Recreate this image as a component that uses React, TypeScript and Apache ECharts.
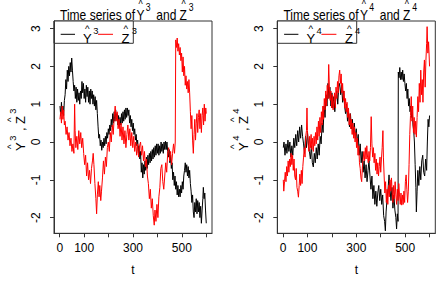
import React, { useEffect, useRef } from "react";
import * as echarts from "echarts";

// ---- data (t, value) ----
const Y3: [number, number][] = [[1,0.95],[4,0.7],[7,1.05],[10,0.75],[13,0.95],[16,0.7],[19,1.1],[22,1.25],[25,1.65],[28,1.4],[31,1.9],[34,1.6],[37,2.0],[40,1.75],[43,2.1],[46,1.85],[49,2.22],[52,1.9],[55,1.6],[58,1.35],[61,1.5],[64,1.15],[67,1.45],[70,1.05],[73,1.4],[76,1.1],[79,1.3],[82,1.0],[85,1.35],[88,1.15],[91,1.6],[94,1.3],[97,1.55],[100,1.15],[103,1.4],[106,1.05],[109,1.5],[112,1.2],[115,1.45],[118,1.05],[121,1.35],[124,1.0],[127,1.4],[130,1.15],[133,1.35],[136,1.0],[139,1.25],[142,0.95],[145,1.2],[148,0.85],[151,1.1],[154,0.75],[157,0.4],[160,0.1],[163,0.2],[166,-0.1],[169,0.05],[172,-0.22],[175,0.0],[178,-0.15],[181,0.1],[184,-0.1],[187,0.15],[190,-0.05],[193,0.25],[196,0.1],[199,0.35],[202,0.2],[205,0.45],[208,0.3],[211,0.6],[214,0.4],[217,0.75],[220,0.5],[223,0.8],[226,0.55],[229,0.85],[232,0.6],[235,0.75],[238,0.45],[241,0.7],[244,0.4],[247,0.65],[250,0.45],[253,0.75],[256,0.5],[259,0.8],[262,0.55],[265,0.85],[268,0.6],[271,0.9],[274,0.65],[277,0.9],[280,0.7],[283,0.85],[286,0.5],[289,0.7],[292,0.4],[295,0.6],[298,0.3],[301,0.5],[304,0.2],[307,0.35],[310,0.05],[313,0.2],[316,-0.1],[319,0.05],[322,-0.3],[325,-0.1],[328,-0.45],[331,-0.25],[334,-0.8],[337,-0.55],[340,-0.95],[343,-0.6],[346,-0.85],[349,-0.5],[352,-0.75],[355,-0.4],[358,-0.7],[361,-0.35],[364,-0.6],[367,-0.3],[370,-0.55],[373,-0.25],[376,-0.5],[379,-0.2],[382,-0.45],[385,-0.15],[388,-0.4],[391,-0.1],[394,-0.35],[397,-0.05],[400,-0.3],[403,-0.05],[406,-0.35],[409,-0.1],[412,-0.3],[415,0.0],[418,-0.25],[421,-0.05],[424,-0.3],[427,0.0],[430,-0.2],[433,0.02],[436,-0.2],[439,0.0],[442,-0.25],[445,-0.4],[448,-0.2],[451,-0.55],[454,-0.35],[457,-0.7],[460,-0.55],[463,-1.0],[466,-0.8],[469,-1.15],[472,-0.9],[475,-1.25],[478,-1.05],[481,-1.4],[484,-1.15],[487,-1.45],[490,-1.25],[493,-1.45],[496,-1.15],[499,-1.35],[502,-1.05],[505,-1.25],[508,-0.9],[511,-0.75],[514,-0.55],[517,-0.8],[520,-0.6],[523,-0.9],[526,-0.65],[529,-0.95],[532,-0.75],[535,-1.1],[538,-1.3],[541,-1.6],[544,-1.4],[547,-1.85],[550,-2.0],[553,-1.6],[556,-1.85],[559,-1.5],[562,-1.9],[565,-1.55],[568,-1.85],[571,-1.6],[574,-2.0],[577,-1.7],[580,-2.15],[583,-1.8],[586,-1.5],[588,-1.2],[591,-1.5],[594,-1.35],[597,-1.8],[600,-2.15]];

const Z3: [number, number][] = [[1,0.6],[4,0.8],[7,0.5],[10,0.95],[13,0.6],[16,0.85],[19,0.45],[22,0.55],[26,0.2],[30,0.4],[34,0.05],[38,0.25],[42,-0.1],[46,0.1],[50,-0.25],[54,-0.05],[58,-0.3],[61,1.0],[63,0.3],[66,-0.15],[70,0.15],[74,-0.2],[78,0.3],[82,-0.05],[86,0.25],[90,-0.15],[94,0.1],[98,-0.3],[102,-0.6],[106,-0.35],[110,-0.9],[114,-0.55],[118,-1.0],[122,-0.75],[126,-1.1],[130,-0.7],[134,-0.5],[137,-0.3],[140,-0.6],[144,-1.1],[148,-1.5],[151,-1.9],[154,-1.4],[158,-1.05],[161,-1.45],[164,-1.15],[168,-1.55],[171,-1.3],[175,-0.95],[179,-0.5],[183,-0.85],[187,-0.4],[191,-0.65],[195,-0.15],[199,0.0],[203,-0.25],[207,0.25],[211,0.0],[215,0.45],[219,0.2],[223,0.65],[227,0.95],[231,0.55],[235,0.8],[239,0.35],[243,0.6],[247,0.15],[251,0.5],[255,0.05],[259,0.4],[263,-0.05],[267,0.3],[271,-0.15],[275,0.2],[279,0.45],[283,0.05],[287,0.35],[291,-0.1],[295,0.25],[299,-0.15],[303,0.15],[307,-0.25],[311,0.0],[315,-0.35],[319,-0.05],[323,-0.4],[327,-0.1],[331,0.0],[335,-0.35],[339,-0.1],[343,-0.5],[347,-0.25],[351,-0.65],[355,-0.45],[359,-0.9],[363,-1.1],[367,-1.5],[371,-1.25],[375,-1.75],[379,-1.5],[383,-1.95],[387,-2.2],[390,-1.8],[394,-2.1],[398,-1.65],[402,-2.0],[406,-1.45],[410,-1.2],[414,-0.7],[418,-0.6],[422,-1.05],[426,-1.25],[430,-0.9],[434,-0.55],[438,-0.8],[442,-0.3],[446,-0.15],[450,-0.5],[454,-0.25],[458,-0.6],[462,-0.3],[466,-0.05],[470,-0.3],[473,0.0],[475,2.7],[478,2.5],[481,2.75],[484,2.4],[487,2.6],[490,2.3],[493,2.5],[496,2.15],[499,2.35],[502,1.85],[505,2.25],[508,1.75],[511,2.0],[514,1.5],[517,1.75],[520,1.4],[523,1.6],[526,1.3],[529,1.65],[532,1.3],[535,0.8],[538,0.35],[541,0.7],[544,0.05],[547,-0.3],[550,0.2],[553,0.6],[556,0.05],[559,0.5],[562,0.75],[565,0.25],[568,0.65],[571,0.85],[574,0.35],[577,0.75],[580,0.25],[583,0.7],[586,0.9],[589,0.45],[592,1.0],[595,0.55],[598,0.9],[600,0.75]];

const Y4: [number, number][] = [[1,-0.15],[4,0.0],[8,-0.35],[12,-0.05],[16,-0.3],[20,0.05],[24,-0.25],[28,0.0],[32,-0.4],[36,-0.1],[40,-0.35],[44,0.1],[48,-0.15],[52,0.2],[56,-0.1],[60,0.3],[64,0.0],[68,0.4],[72,0.1],[76,0.45],[80,0.15],[84,-0.05],[88,-0.3],[92,0.15],[96,-0.15],[100,0.25],[104,-0.05],[108,-0.25],[112,-0.45],[116,-0.1],[120,-0.55],[124,-0.66],[128,-0.3],[132,-0.55],[136,-0.15],[140,-0.45],[144,-0.05],[148,-0.35],[152,0.15],[156,-0.05],[160,0.5],[164,0.25],[168,0.95],[172,0.65],[176,1.25],[180,0.95],[184,1.55],[188,1.15],[192,1.45],[196,0.95],[200,1.3],[204,0.9],[208,1.2],[212,0.8],[216,1.15],[220,1.35],[224,1.0],[228,1.45],[232,1.55],[236,1.25],[240,1.5],[244,1.05],[248,1.35],[252,0.95],[256,0.75],[260,1.0],[264,0.55],[268,0.8],[272,0.4],[276,0.75],[280,0.35],[284,0.6],[288,0.2],[292,0.5],[296,0.1],[300,0.35],[304,-0.05],[308,0.2],[312,-0.35],[316,-0.05],[320,-0.55],[324,-0.25],[328,-0.8],[332,-0.5],[336,-0.95],[340,-0.6],[344,-1.05],[348,-0.75],[352,-0.5],[356,-0.9],[360,-1.25],[364,-0.9],[368,-1.5],[372,-1.15],[376,-1.65],[380,-1.3],[384,-1.7],[388,-1.35],[392,-1.15],[396,-1.55],[400,-1.25],[404,-1.65],[408,-1.4],[412,-1.95],[416,-2.1],[419,-2.35],[422,-1.85],[426,-1.5],[430,-1.25],[434,-0.87],[438,-1.25],[442,-1.55],[446,-1.2],[450,-1.75],[454,-1.4],[458,-1.8],[462,-2.0],[465,-2.3],[468,-1.9],[471,-2.1],[472,1.85],[475,1.7],[478,1.97],[481,1.65],[484,1.85],[487,1.65],[490,1.9],[493,1.6],[496,1.8],[499,1.55],[502,1.35],[505,1.55],[508,1.15],[511,1.4],[514,0.95],[517,1.15],[520,0.8],[523,0.95],[526,0.65],[529,0.85],[532,0.45],[535,0.3],[538,0.0],[541,-0.6],[544,-1.2],[546,-1.85],[549,-1.3],[552,-0.75],[556,-1.15],[560,-0.65],[564,-1.0],[568,-0.5],[572,-0.35],[576,-0.8],[580,-0.9],[584,-0.45],[588,-0.75],[591,0.0],[594,0.6],[597,0.4],[600,0.7]];

const Z4: [number, number][] = [[1,-1.0],[3,-1.3],[6,-1.05],[9,-0.8],[12,-1.05],[15,-0.65],[18,-0.9],[21,-0.5],[24,-0.8],[27,-0.45],[30,-0.65],[33,-0.3],[36,-0.6],[39,-0.35],[42,-0.75],[45,-0.45],[48,-0.9],[51,-1.0],[54,-0.7],[57,-1.2],[60,-1.3],[63,-1.46],[66,-1.15],[69,-0.85],[72,-1.15],[75,-0.75],[78,-1.1],[81,-0.65],[84,-0.4],[87,-0.15],[90,-0.4],[93,0.15],[96,0.3],[98,0.9],[100,0.3],[103,-0.05],[106,-0.25],[109,0.15],[112,-0.15],[115,0.2],[118,-0.2],[121,0.1],[124,-0.25],[127,0.15],[130,-0.1],[133,0.25],[136,-0.05],[139,0.4],[142,0.05],[145,0.55],[148,0.15],[151,0.65],[154,0.25],[157,0.8],[160,0.45],[163,0.95],[166,0.6],[169,1.15],[172,0.85],[175,1.35],[178,0.95],[181,1.5],[184,1.15],[187,2.05],[190,1.4],[193,1.1],[196,1.35],[199,0.9],[202,1.25],[205,0.85],[208,1.1],[211,1.3],[214,0.9],[217,1.45],[220,1.15],[223,1.6],[226,1.3],[229,1.75],[232,1.9],[235,1.55],[238,1.8],[241,1.3],[244,1.55],[247,1.1],[250,1.35],[253,0.9],[256,1.15],[259,0.8],[262,1.05],[265,0.65],[268,0.9],[271,0.45],[274,0.75],[277,0.35],[280,0.6],[283,0.2],[286,0.5],[289,0.1],[292,0.4],[295,0.0],[298,0.25],[301,-0.15],[304,0.1],[307,-0.35],[310,-0.1],[313,-0.55],[316,-0.7],[319,-0.95],[322,-1.05],[325,-0.65],[328,-0.45],[331,-0.25],[334,-0.5],[337,-0.15],[340,-0.45],[343,-0.1],[346,-0.4],[349,-0.55],[352,-0.25],[355,-0.5],[358,-0.15],[361,0.67],[364,-0.05],[367,-0.4],[370,-0.15],[373,-0.55],[376,-0.3],[379,-0.75],[382,-0.45],[385,-0.85],[388,-0.55],[391,-0.9],[394,-0.65],[397,-0.4],[400,-0.8],[403,-0.45],[406,-0.15],[409,0.3],[411,-0.4],[414,-0.9],[417,-1.35],[420,-1.05],[423,-1.6],[426,-1.25],[429,-1.65],[432,-1.15],[435,-1.45],[438,-1.0],[441,-1.3],[444,-0.95],[447,-1.35],[450,-1.6],[453,-1.15],[456,-1.5],[459,-1.05],[462,-1.4],[465,-1.65],[468,-1.25],[471,-1.55],[474,-1.1],[477,-1.4],[480,-1.65],[483,-1.35],[486,-1.67],[489,-1.4],[492,-1.65],[495,-1.3],[498,-1.6],[501,-1.05],[504,-0.87],[507,-1.25],[510,-1.6],[513,-1.3],[516,-0.6],[519,0.2],[522,0.7],[525,1.2],[528,0.55],[531,0.95],[534,0.25],[537,0.65],[540,0.2],[543,0.55],[546,0.13],[549,0.65],[552,1.2],[555,0.8],[558,1.55],[561,1.05],[564,1.9],[567,1.25],[570,1.65],[573,1.05],[576,1.85],[579,2.17],[582,1.45],[585,2.15],[588,2.6],[590,3.05],[593,2.35],[596,2.65],[600,2.0]];

const X_TICKS = [0, 100, 200, 300, 400, 500, 600];
const X_LABELS = [0, 100, 300, 500];
const Y_TICKS = [-2, -1, 0, 1, 2, 3];
const PANEL_SUPS = ["3", "4"];

const FONT = '"Liberation Sans", Arial, Helvetica, sans-serif';
const T_MIN = -23.5, T_MAX = 623.5;
const V_MIN = -2.415, V_MAX = 3.2;

function txt(text: string, x: number, y: number, size: number, align = "left") {
  return {
    type: "text", x, y, silent: true,
    style: { text, font: `${size}px ${FONT}`, fill: "#000", textAlign: align, textVerticalAlign: "middle", align, verticalAlign: "middle" },
  };
}

// letter with a hat above and a superscript after it; (x,y) = letter's left edge / vertical middle
function hatSup(letter: string, sup: string, x: number, y: number, size: number) {
  const w = size * 0.667;
  return [
    txt(letter, x, y, size),
    txt("^", x + w / 2, y - size * 0.78, size * 0.75, "center"),
    txt(sup, x + w + 1.5, y - size * 0.6, size * 0.72),
  ];
}

export default function App() {
  const ref = useRef<HTMLDivElement>(null);
  useEffect(() => {
    const chart = echarts.init(ref.current!, null, { renderer: "svg" });
    const gridLefts = [54, 277.3];
    const grid = gridLefts.map((l) => ({ left: l, top: 21, width: 158, height: 212.3, show: true, borderColor: "#333", borderWidth: 1, backgroundColor: "transparent" }));
    const xAxis = gridLefts.map((_, i) => ({
      type: "value", gridIndex: i, min: T_MIN, max: T_MAX, position: "bottom",
      axisLine: { show: true, onZero: false, lineStyle: { color: "#333", width: 1 } }, splitLine: { show: false },
      axisTick: { show: true, inside: false, length: 4, customValues: X_TICKS, lineStyle: { color: "#333", width: 1 } },
      axisLabel: { customValues: X_LABELS, fontSize: 12, color: "#000", fontFamily: FONT, margin: 9 },
      name: "t", nameLocation: "middle", nameGap: 31, nameTextStyle: { fontSize: 12, color: "#000", fontFamily: FONT },
    }));
    const yAxis = gridLefts.map((_, i) => ({
      type: "value", gridIndex: i, min: V_MIN, max: V_MAX, position: "left",
      axisLine: { show: true, onZero: false, lineStyle: { color: "#333", width: 1 } }, splitLine: { show: false },
      axisTick: { show: true, inside: false, length: 4, customValues: Y_TICKS, lineStyle: { color: "#333", width: 1 } },
      axisLabel: { customValues: Y_TICKS, rotate: 90, fontSize: 12, color: "#000", fontFamily: FONT, margin: 12 },
    }));
    const mk = (name: string, data: [number, number][], color: string, i: number) => ({
      type: "line", name, data, xAxisIndex: i, yAxisIndex: i, showSymbol: false, symbol: "none",
      lineStyle: { color, width: 1 }, itemStyle: { color }, z: color === "red" ? 3 : 2,
    });
    const graphic: any[] = [];
    PANEL_SUPS.forEach((s, i) => {
      const dx = i * 223.4;
      // title
      graphic.push({
        type: "group", x: 60 + dx, y: 15.5, scaleX: 0.86, silent: true,
        children: [txt("Time series of", 0, 0, 14), ...hatSup("Y", s, 89, 0, 14), txt("and", 112, 0, 14), ...hatSup("Z", s, 139, 0, 14)],
      });
      // legend
      graphic.push({ type: "rect", silent: true, shape: { x: 54 + dx, y: 21, width: 79.3, height: 22.3 }, style: { fill: "#fff", stroke: "#333", lineWidth: 1 } });
      graphic.push({ type: "line", silent: true, shape: { x1: 60.7 + dx, y1: 34.3, x2: 75 + dx, y2: 34.3 }, style: { stroke: "#000", lineWidth: 1 } });
      graphic.push({ type: "line", silent: true, shape: { x1: 98 + dx, y1: 34.3, x2: 113 + dx, y2: 34.3 }, style: { stroke: "red", lineWidth: 1 } });
      graphic.push(...hatSup("Y", s, 83 + dx, 38.5, 13));
      graphic.push(...hatSup("Z", s, 121.5 + dx, 38.5, 13));
      // y-axis title (rotated)
      graphic.push({
        type: "group", x: 20.5 + dx, y: 127, rotation: Math.PI / 2, silent: true,
        children: [...hatSup("Y", s, -24, 0, 13), txt(",", -4, 0, 13), ...hatSup("Z", s, 3, 0, 13)],
      });
    });
    chart.setOption({
      animation: false,
      backgroundColor: "#fff",
      grid, xAxis, yAxis,
      series: [mk("Y3", Y3, "#000", 0), mk("Z3", Z3, "red", 0), mk("Y4", Y4, "#000", 1), mk("Z4", Z4, "red", 1)],
      graphic,
    });
    return () => chart.dispose();
  }, []);
  return <div ref={ref} style={{ position: "fixed", left: 0, top: 0, width: 447, height: 284, background: "#fff" }} />;
}
